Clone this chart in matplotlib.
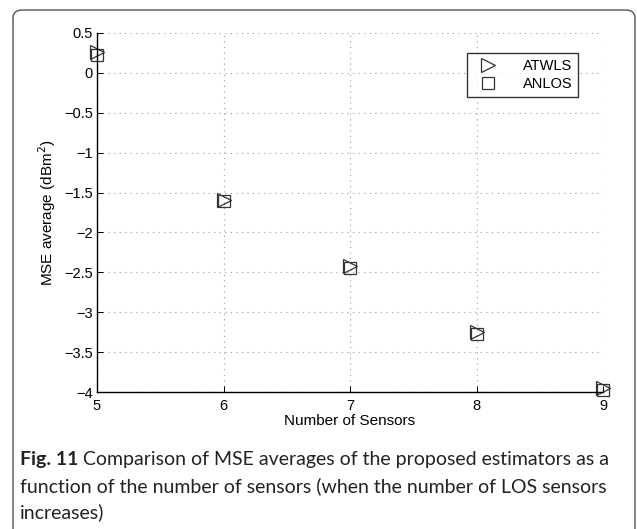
import matplotlib.pyplot as plt
from matplotlib.patches import FancyBboxPatch

sensors = [5, 6, 7, 8, 9]
atwls = [0.26, -1.59, -2.42, -3.25, -3.95]
anlos = [0.23, -1.61, -2.44, -3.27, -3.97]
yticks = [0.5, 0, -0.5, -1, -1.5, -2, -2.5, -3, -3.5, -4]

plt.rcParams['font.family'] = ['Liberation Sans', 'DejaVu Sans']

fig = plt.figure(figsize=(6.37, 5.29), dpi=100)

# rounded frame around figure + caption
frame = FancyBboxPatch((13/637, -0.05), 622/637, 1 - 10/529 + 0.05,
                       boxstyle="round,pad=0,rounding_size=0.015",
                       transform=fig.transFigure, fill=False,
                       edgecolor='#555555', linewidth=1.0)
fig.patches.append(frame)

ax = fig.add_axes([97/637, 1 - 392/529, 506/637, 359/529])
ax.plot(sensors, atwls, linestyle='none', marker='>', markersize=10,
        markerfacecolor='none', markeredgecolor='#333333', markeredgewidth=0.9,
        label='ATWLS', clip_on=False)
ax.plot(sensors, anlos, linestyle='none', marker='s', markersize=9,
        markerfacecolor='none', markeredgecolor='#333333', markeredgewidth=0.9,
        label='ANLOS', clip_on=False)

ax.set_xlim(5, 9)
ax.set_ylim(-4, 0.5)
ax.set_xticks(sensors)
ax.set_yticks(yticks)
ax.set_yticklabels(['0.5', '0', '\u22120.5', '\u22121', '\u22121.5', '\u22122',
                    '\u22122.5', '\u22123', '\u22123.5', '\u22124'])
ax.tick_params(direction='in', labelsize=10.5, length=4, width=0.7, pad=3)
ax.tick_params(axis='x', pad=5)
ax.spines['top'].set_visible(False)
ax.spines['right'].set_visible(False)
ax.spines['left'].set_linewidth(1.0)
ax.spines['bottom'].set_linewidth(1.0)
ax.grid(True, linestyle=(0, (1, 4)), color='#999999', linewidth=0.8)
ax.set_xlabel('Number of Sensors', fontsize=11, labelpad=1)
ax.set_ylabel('MSE average (dBm$^2$)', fontsize=11, labelpad=4)

leg = ax.legend(loc='upper right', bbox_to_anchor=(481/506, 1 - 20/359),
                borderaxespad=0, fontsize=10.5, frameon=True, fancybox=False,
                edgecolor='black', handletextpad=1.4, borderpad=0.4,
                labelspacing=0.3)
leg.get_frame().set_linewidth(1.0)

cap_font = ['Lato', 'DejaVu Sans']
cap_size = 14
x0 = 20/637
bold = fig.text(x0, 1 - 459/529, 'Fig. 11', fontsize=cap_size, va='center',
                family=cap_font, fontweight='bold', color='#222222')
fig.canvas.draw()
bb = bold.get_window_extent(renderer=fig.canvas.get_renderer())
x1 = (bb.x1 + 5) / fig.bbox.width
fig.text(x1, 1 - 459/529,
         'Comparison of MSE averages of the proposed estimators as a',
         fontsize=cap_size, va='center', family=cap_font, color='#222222')
fig.text(x0, 1 - 486/529,
         'function of the number of sensors (when the number of LOS sensors',
         fontsize=cap_size, va='center', family=cap_font, color='#222222')
fig.text(x0, 1 - 512/529, 'increases)',
         fontsize=cap_size, va='center', family=cap_font, color='#222222')

fig.savefig('out.png', dpi=100)
